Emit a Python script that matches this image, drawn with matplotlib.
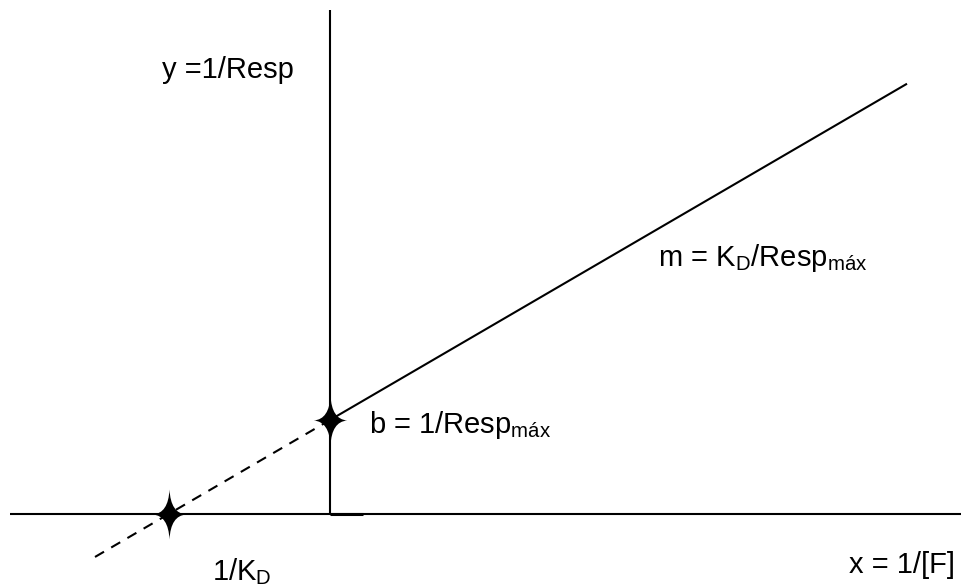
import matplotlib
matplotlib.use("Agg")
import matplotlib.pyplot as plt
from matplotlib.path import Path
import numpy as np

plt.rcParams['font.family'] = ['Liberation Sans', 'DejaVu Sans']
plt.rcParams['mathtext.fontset'] = 'custom'
plt.rcParams['mathtext.rm'] = 'Liberation Sans'
plt.rcParams['mathtext.it'] = 'Liberation Sans'

# --- data (arbitrary units of the schematic double-reciprocal plot) ---
KD = 0.62                 # dissociation constant
resp_max = 1.0 / 0.94     # maximum response
b = 1.0 / resp_max        # y-intercept
m = KD / resp_max         # slope
x_intercept = -1.0 / KD   # 1/KD point on x axis (negative side)
x_line_end = 5.77         # end of solid line
x_dash_start = -2.35      # start of dashed extrapolation
x_axis_span = [-3.20, 6.31]
y_axis_span = [0.0, 5.04]
x_stub = [0.0, 0.33]

labels = {
    "y": "y =1/Resp",
    "x": "x = 1/[F]",
    "m": r"m = K$_\mathregular{D}$/Resp$_\mathregular{máx}$",
    "b": r"b = 1/Resp$_\mathregular{máx}$",
    "kd": r"1/K$_\mathregular{D}$",
}

fig = plt.figure(figsize=(9.61, 5.87), dpi=100)
ax = fig.add_axes([0, 0, 1, 1])
ax.set_xlim(-3.30, 6.31)
ax.set_ylim(-0.73, 5.14)
ax.axis('off')

lw = 1.5
# axes
ax.plot(x_axis_span, [0, 0], color='black', lw=lw, solid_capstyle='butt')
ax.plot([0, 0], y_axis_span, color='black', lw=lw, solid_capstyle='butt')
ax.plot(x_stub, [0, 0], color='black', lw=2.2, solid_capstyle='butt')

# solid line
xs = np.array([0.0, x_line_end])
ax.plot(xs, b + m * xs, color='black', lw=lw, solid_capstyle='butt')
# dashed extrapolation
xd = np.array([x_dash_start, 0.0])
ax.plot(xd, b + m * xd, color='black', lw=lw, dashes=(5, 4))

# four-point star marker with concave curved sides
c = 0.07
star = Path([(0, 1.5), (c, c), (1, 0),
             (c, -c), (0, -1.5),
             (-c, -c), (-1, 0),
             (-c, c), (0, 1.5), (0, 1.5)],
            [Path.MOVETO, Path.CURVE3, Path.CURVE3,
             Path.CURVE3, Path.CURVE3,
             Path.CURVE3, Path.CURVE3,
             Path.CURVE3, Path.CURVE3, Path.CLOSEPOLY])
ax.plot([x_intercept, 0.0], [0.0, b], linestyle='none', marker=star,
        markersize=36, color='black', markeredgewidth=0)

fs = 21
ax.text(-1.68, 4.36, labels["y"], fontsize=fs, ha='left', va='baseline')
ax.text(5.19, -0.59, labels["x"], fontsize=fs, ha='left', va='baseline')
ax.text(3.28, 2.48, labels["m"], fontsize=fs, ha='left', va='baseline')
ax.text(0.39, 0.81, labels["b"], fontsize=fs, ha='left', va='baseline')
ax.text(-1.18, -0.66, labels["kd"], fontsize=fs, ha='left', va='baseline')

fig.savefig("out.png", dpi=100)
